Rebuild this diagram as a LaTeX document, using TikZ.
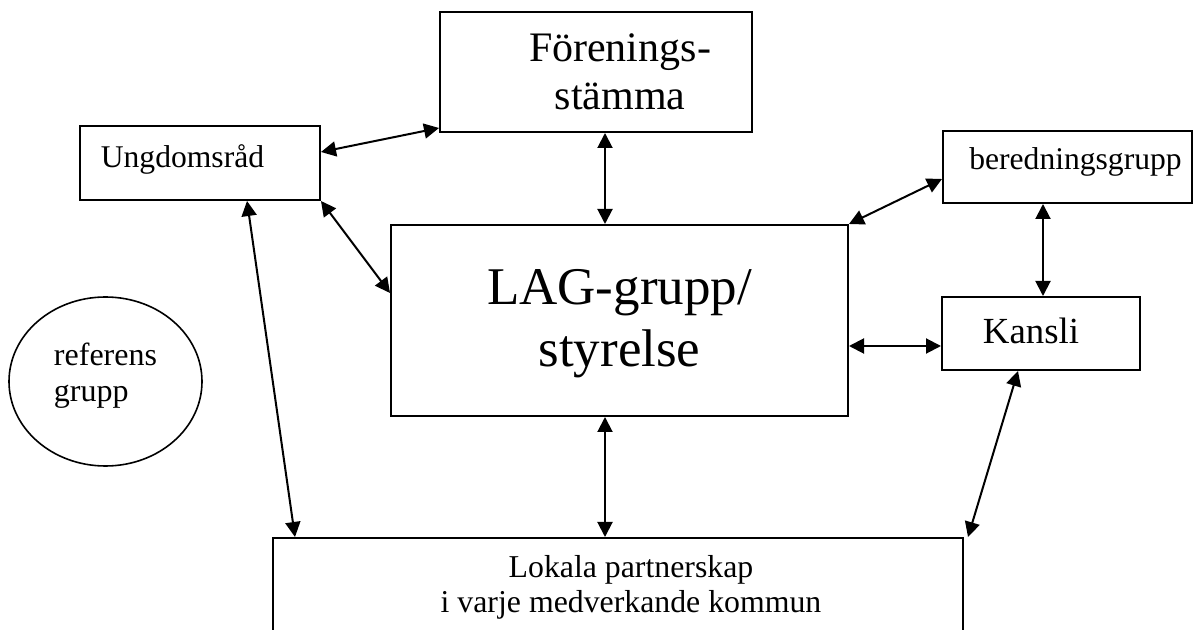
\documentclass[tikz,border=0pt]{standalone}
\usepackage{fontspec}
\setmainfont{Liberation Serif}
\usetikzlibrary{arrows.meta,shapes.geometric}

\begin{document}
\begin{tikzpicture}[x=0.5pt,y=-0.5pt,
    box/.style={draw,line width=1pt,rectangle,inner sep=0pt},
    txt/.style={inner sep=0pt,align=center},
    link/.style={{Triangle[length=7.5pt,width=7.5pt]}-{Triangle[length=7.5pt,width=7.5pt]},line width=1pt}]
    \useasboundingbox (0,0) rectangle (1200,630);

    % boxes
    \node [box,minimum width=156pt,minimum height=60pt,
        label={[txt,font=\fontsize{21}{24}\selectfont,xshift=12pt]center:Förenings-\\stämma}] (foren) at (596,72) {};
    \node [box,minimum width=120pt,minimum height=37pt,
        label={[txt,font=\fontsize{15.8}{18}\selectfont,xshift=-8.75pt,yshift=1.75pt]center:Ungdomsråd}] (ungdom) at (200,163) {};
    \node [box,minimum width=124.5pt,minimum height=36pt,
        label={[txt,font=\fontsize{15.8}{18}\selectfont,xshift=4pt,yshift=2.5pt]center:beredningsgrupp}] (bered) at (1067.5,167) {};
    \node [box,minimum width=228.5pt,minimum height=95.5pt,
        label={[txt,font=\fontsize{26.5}{31}\selectfont,yshift=-1.5pt]center:LAG-grupp/\\styrelse}] (lag) at (619.5,320.5) {};
    \node [box,minimum width=99pt,minimum height=36.5pt,
        label={[txt,font=\fontsize{18.4}{21}\selectfont,xshift=-5pt,yshift=1.25pt]center:Kansli}] (kansli) at (1041,333.5) {};
    \node [draw,ellipse,line width=0.8pt,inner sep=0pt,minimum width=96.5pt,minimum height=84.5pt,
        label={[txt,align=left,font=\fontsize{16}{18}\selectfont,yshift=3pt]center:referens\\grupp}] (ref) at (105.5,381.5) {};
    \node [box,minimum width=345pt,minimum height=55pt,
        label={[txt,font=\fontsize{15.9}{17.5}\selectfont,xshift=6.5pt,yshift=3pt]center:Lokala partnerskap\\i varje medverkande kommun}] (lokala) at (618,593) {};

    % connections
    \draw [link] ([yshift=5.5pt]ungdom.east) -- ([yshift=2.5pt]foren.south west);
    \draw [link] ([xshift=4.5pt]foren.south) -- ([xshift=4.5pt]foren.south |- lag.north);
    \draw [link] (ungdom.south east) -- ([yshift=13.75pt]lag.west);
    \draw [link] ([yshift=-6pt]bered.west) -- (lag.north east);
    \draw [link] ([xshift=-12.25pt]bered.south) -- ([xshift=-12.25pt]bered.south |- kansli.north);
    \draw [link] ([yshift=-12.75pt]lag.east) -- ([yshift=-12.75pt]lag.east -| kansli.west);
    \draw [link] ([xshift=23.5pt]ungdom.south) -- ([xshift=11.5pt]lokala.north west);
    \draw [link] ([xshift=-7.25pt]lag.south) -- ([xshift=-7.25pt]lag.south |- lokala.north);
    \draw [link] ([xshift=-11.5pt]kansli.south) -- ([xshift=2pt]lokala.north east);
\end{tikzpicture}
\end{document}
